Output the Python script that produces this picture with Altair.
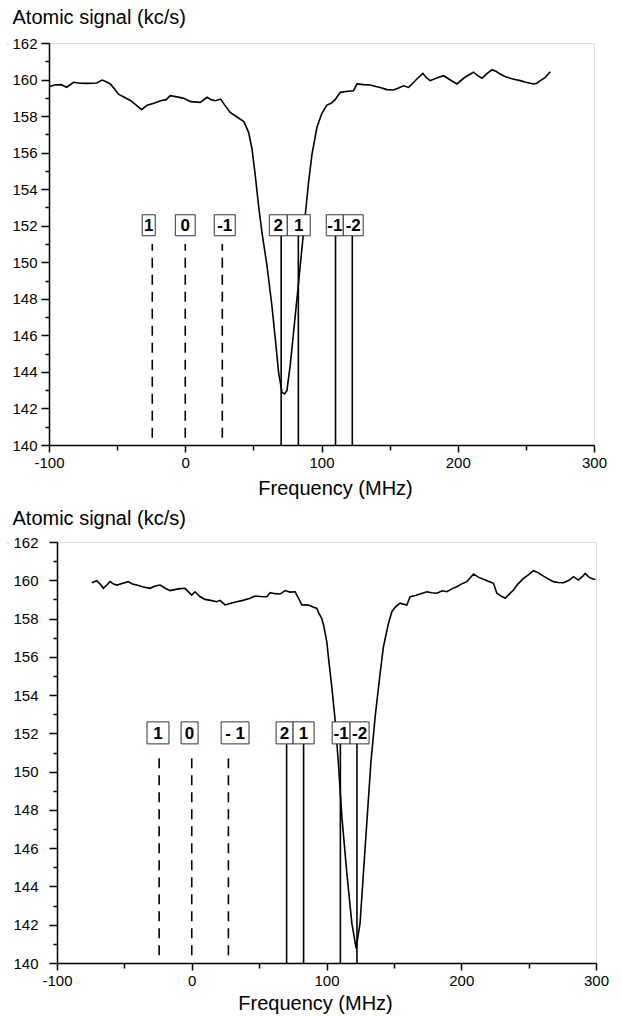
import altair as alt
import pandas as pd

FONT = "Liberation Sans"

# ---------------- top panel data ----------------
top_freq = [-100, -96, -91, -87, -82, -77, -72, -68, -65, -61, -58, -55, -52, -49, -44, -40,
            -36, -32, -28, -23, -18, -14, -11, -6, -1, 4, 11, 16, 19, 22, 26, 29, 33, 38, 43,
            46.5, 49, 51.4, 53.8, 56.3, 60, 63.6, 66.1, 68.5, 71, 72.9, 74.6, 77, 79.5, 83.2,
            86.8, 90.5, 93, 96.7, 100.3, 104, 107, 110, 113.8, 118, 123.5, 126, 131, 135.8,
            140, 143.1, 148, 152.9, 157, 160.2, 163.9, 167, 170, 174.4, 177, 179.8, 185,
            189.6, 194, 199.4, 204.3, 208, 211.6, 215, 217.8, 221, 225.1, 228, 231.2, 235,
            238.5, 242, 245.9, 250, 255.6, 258, 260.6, 264, 267.9]
top_signal = [159.6, 159.7, 159.72, 159.58, 159.85, 159.8, 159.79, 159.8, 159.81, 159.97,
              159.88, 159.76, 159.5, 159.2, 159.0, 158.84, 158.6, 158.35, 158.6, 158.7,
              158.84, 158.9, 159.12, 159.05, 158.97, 158.79, 158.75, 159.03, 158.9, 158.84,
              158.93, 158.6, 158.2, 157.95, 157.7, 157.11, 156.2, 154.74, 153.1, 151.64,
              149.81, 147.62, 145.8, 143.98, 142.88, 142.79, 142.97, 144.34, 146.17, 148.9,
              151.64, 154.38, 155.9, 157.4, 158.15, 158.6, 158.7, 158.9, 159.3, 159.35,
              159.39, 159.76, 159.72, 159.7, 159.62, 159.57, 159.45, 159.43, 159.55, 159.66,
              159.57, 159.8, 160.03, 160.34, 160.1, 159.94, 160.1, 160.21, 160.0, 159.76,
              160.07, 160.25, 160.4, 160.2, 160.07, 160.3, 160.54, 160.45, 160.3, 160.15,
              160.07, 160.0, 159.94, 159.85, 159.76, 159.8, 159.94, 160.1, 160.43]

# ---------------- bottom panel data ----------------
bot_freq = [-74.2, -70.5, -68, -65.6, -63, -60.7, -58, -55.7, -51, -47.1, -44, -40.8, -36,
            -31, -27, -23.5, -20, -16.1, -10, -5, 0, 2.4, 6, 9.9, 14, 18.6, 21, 24.7, 29,
            33.4, 38, 43.3, 47, 51, 55.7, 58.1, 62, 65.6, 69.3, 73, 76.7, 79, 81.7, 84, 86.6,
            90, 92.8, 94.5, 96.5, 98, 100.2, 101.4, 103.9, 106.4, 108.8, 111.4, 115.1, 118.8,
            122, 124.9, 127.4, 129.9, 132.9, 136.1, 139.8, 142.2, 144, 146, 148.5, 151, 154.6,
            159.6, 162.1, 166, 170, 174.5, 178, 181.9, 186, 189.3, 193, 196.7, 200, 204.2,
            209.1, 213, 216.5, 220, 223.9, 226.4, 229, 232.6, 236, 238.8, 242, 246.2, 250,
            253.6, 257, 261, 265, 268.4, 272, 275.9, 280, 283.3, 287, 290, 292, 295, 298.2,
            299.5]
bot_signal = [159.87, 159.98, 159.8, 159.58, 159.75, 159.93, 159.8, 159.75, 159.85, 159.93,
              159.8, 159.75, 159.65, 159.58, 159.7, 159.75, 159.6, 159.46, 159.55, 159.58,
              159.23, 159.4, 159.15, 159.0, 158.95, 158.88, 158.95, 158.71, 158.8, 158.88,
              158.95, 159.06, 159.18, 159.15, 159.14, 159.35, 159.3, 159.28, 159.46, 159.38,
              159.4, 159.1, 158.71, 158.72, 158.71, 158.6, 158.53, 158.25, 158.0, 157.6,
              156.8, 156.0, 154.44, 152.7, 150.45, 147.65, 144.69, 142.08, 140.77, 142.08,
              144.69, 147.3, 150.44, 152.87, 155.14, 156.5, 157.1, 157.75, 158.36, 158.6,
              158.8, 158.71, 159.14, 159.2, 159.3, 159.4, 159.35, 159.32, 159.45, 159.4,
              159.55, 159.66, 159.8, 159.93, 160.33, 160.15, 160.05, 159.95, 159.84, 159.32,
              159.2, 159.06, 159.3, 159.49, 159.8, 160.1, 160.3, 160.5, 160.4, 160.22, 160.05,
              159.93, 159.88, 159.87, 160.0, 160.19, 160.01, 160.2, 160.36, 160.15, 160.05,
              160.05]

# ---------------- marker lines and labels ----------------
dashed_freq = [-24.2, 0, 27.2]
solid_freq = [70.4, 83.0, 110.3, 122.6]

top_labels = ["1", "0", "-1", "2", "1", "-1", "-2"]
top_box_left = [-31.6, -7.3, 21.3, 61.7, 74.9, 103.5, 116.0]
top_box_right = [-22.0, 7.3, 36.7, 74.9, 91.7, 116.0, 130.6]

bot_labels = ["1", "0", "- 1", "2", "1", "-1", "-2"]
bot_box_left = [-33.2, -7.9, 21.8, 62.6, 75.2, 104.2, 117.5]
bot_box_right = [-16.9, 4.7, 42.5, 75.2, 90.8, 117.5, 131.6]

dash_y = [140.4, 151.0]
solid_y = [140.0, 151.45]
box_y = [151.45, 152.6]
label_y = 152.02

x_ticks = [-100, -50, 0, 50, 100, 150, 200, 250, 300]
y_ticks = [140, 141, 142, 143, 144, 145, 146, 147, 148, 149, 150, 151, 152, 153, 154,
           155, 156, 157, 158, 159, 160, 161, 162]


def panel(freq, signal, labels, bl, br, w, h, ylab_pad, ytitle_x, ytitle_y, xtitle_x, xtitle_y):
    curve_df = pd.DataFrame({"freq": freq, "signal": signal})
    dash_df = pd.DataFrame({"freq": dashed_freq, "y1": dash_y[0], "y2": dash_y[1]})
    solid_df = pd.DataFrame({"freq": solid_freq, "y1": solid_y[0], "y2": solid_y[1]})
    box_df = pd.DataFrame({"left": bl, "right": br, "label": labels})
    box_df["center"] = (box_df["left"] + box_df["right"]) / 2
    box_df["b"] = box_y[0]
    box_df["t"] = box_y[1]
    box_df["ym"] = label_y

    xscale = alt.Scale(domain=[-100, 300], nice=False, zero=False)
    yscale = alt.Scale(domain=[140, 162], nice=False, zero=False)
    xaxis = alt.Axis(
        values=x_ticks, grid=False, title="Frequency (MHz)",
        labelExpr="datum.value % 100 == 0 ? ('' + datum.value) : ''",
        tickSize={"condition": {"test": "datum.value % 100 == 0", "value": 7}, "value": 5},
        tickColor="black", tickWidth=1.5, domainColor="black", domainWidth=1.5,
        labelFont=FONT, labelFontSize=15, labelColor="black", labelPadding=3,
        labelFlush=False, labelOverlap=False,
        titleFont=FONT, titleFontSize=20, titleFontWeight="normal", titleColor="black",
        titleX=xtitle_x, titleY=xtitle_y, titleBaseline="alphabetic", titleAlign="center",
    )
    yaxis = alt.Axis(
        values=y_ticks, grid=False, title="Atomic signal (kc/s)",
        labelExpr="datum.value % 2 == 0 ? ('' + datum.value) : ''",
        tickSize={"condition": {"test": "datum.value % 2 == 0", "value": 8}, "value": 4},
        tickColor="black", tickWidth=1.5, domainColor="black", domainWidth=1.5,
        labelFont=FONT, labelFontSize=15, labelColor="black", labelPadding=ylab_pad,
        labelOverlap=False, labelFlush=False,
        titleFont=FONT, titleFontSize=20, titleFontWeight="normal", titleColor="black",
        titleAngle=0, titleAlign="left", titleBaseline="alphabetic",
        titleX=ytitle_x, titleY=ytitle_y,
    )

    curve = alt.Chart(curve_df).mark_line(color="black", strokeWidth=1.6).encode(
        x=alt.X("freq:Q", scale=xscale, axis=xaxis),
        y=alt.Y("signal:Q", scale=yscale, axis=yaxis),
    )
    dashed = alt.Chart(dash_df).mark_rule(color="black", strokeWidth=1.6, strokeDash=[10, 7]).encode(
        x=alt.X("freq:Q", scale=xscale, axis=xaxis),
        y=alt.Y("y1:Q", scale=yscale, axis=yaxis),
        y2="y2:Q",
    )
    solid = alt.Chart(solid_df).mark_rule(color="black", strokeWidth=1.6).encode(
        x=alt.X("freq:Q", scale=xscale, axis=xaxis),
        y=alt.Y("y1:Q", scale=yscale, axis=yaxis),
        y2="y2:Q",
    )
    boxes = alt.Chart(box_df).mark_rect(fill="white", stroke="#333333", strokeWidth=1).encode(
        x=alt.X("left:Q", scale=xscale, axis=xaxis),
        x2="right:Q",
        y=alt.Y("b:Q", scale=yscale, axis=yaxis),
        y2="t:Q",
    )
    texts = alt.Chart(box_df).mark_text(
        font=FONT, fontSize=17, fontWeight="bold", color="black",
        align="center", baseline="middle", dy=1,
    ).encode(
        x=alt.X("center:Q", scale=xscale, axis=xaxis),
        y=alt.Y("ym:Q", scale=yscale, axis=yaxis),
        text="label:N",
    )
    return alt.layer(curve, dashed, solid, boxes, texts).properties(width=w, height=h)


def spacer():
    return alt.Chart(pd.DataFrame({"s": [0]})).mark_point(opacity=0).encode(
        x=alt.X("s:Q", axis=None), y=alt.Y("s:Q", axis=None)
    ).properties(width=1, height=1)


top = panel(top_freq, top_signal, top_labels, top_box_left, top_box_right,
            545, 402, 4, -37, -20, 286, 49)
bottom = panel(bot_freq, bot_signal, bot_labels, bot_box_left, bot_box_right,
               539, 421, 11, -45, -18, 258, 46)

chart = alt.vconcat(
    alt.hconcat(spacer(), top, spacing=0).resolve_scale(x="independent", y="independent"),
    alt.hconcat(spacer(), bottom, spacing=0).resolve_scale(x="independent", y="independent"),
    spacing=8,
).resolve_scale(x="independent", y="independent").properties(
    padding={"left": 4, "top": 6, "right": 5, "bottom": 0}
).configure_view(stroke=None).configure(background="white")

chart.save("out.html", embed_options={"renderer": "svg", "actions": False})
